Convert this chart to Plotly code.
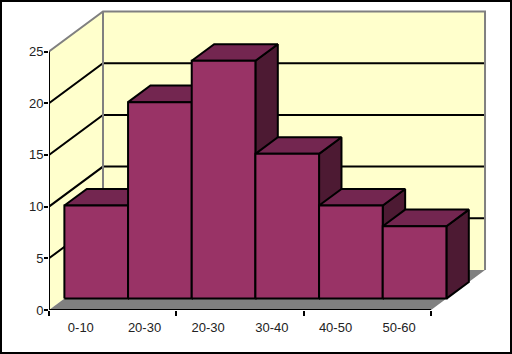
import plotly.graph_objects as go

categories = ["0-10", "20-30", "20-30", "30-40", "40-50", "50-60"]
values = [9, 19, 23, 14, 9, 7]
value_ticks = [0, 5, 10, 15, 20, 25]
category_ticks = [0, 2, 4, 6]

FRONT, BAR_A, BAR_B, BACK = 0.0, 0.285, 0.70, 1.0
DX, DY = 54 / 63.67, 40 / 10.34   # depth shift in axis units
YMAX = value_ticks[-1]
N = len(values)

PLOT_L, PLOT_R, PLOT_T, PLOT_B = 49, 487, 10, 310
W, H = 512, 354


def P(x, y, d):
    return x + d * DX, y + d * DY


fig = go.Figure()


def poly(pts, fill=None, line="#000000", width=2):
    xs = [p[0] for p in pts]
    ys = [p[1] for p in pts]
    fig.add_trace(go.Scatter(
        x=xs, y=ys, mode="lines",
        fill="toself" if fill else "none", fillcolor=fill,
        line=dict(color=line, width=width),
        hoverinfo="skip", showlegend=False, cliponaxis=False,
    ))


WALL, FLOOR, EDGE = "#FFFFCC", "#808080", "#808080"
BAR_FRONT, BAR_TOP, BAR_SIDE = "#993366", "#732650", "#4D1A33"

# walls and floor
poly([P(0, 0, FRONT), P(0, YMAX, FRONT), P(0, YMAX, BACK), P(0, 0, BACK)], fill=WALL, line=WALL, width=0)
poly([P(0, 0, BACK), P(0, YMAX, BACK), P(N, YMAX, BACK), P(N, 0, BACK)], fill=WALL, line=WALL, width=0)
poly([P(0, 0, FRONT), P(N, 0, FRONT), P(N, 0, BACK), P(0, 0, BACK)], fill=FLOOR, line=FLOOR, width=0)

# gridlines
for v in value_ticks[1:-1]:
    poly([P(0, v, FRONT), P(0, v, BACK), P(N, v, BACK)])

# wall edges
poly([P(0, YMAX, FRONT), P(0, YMAX, BACK), P(N, YMAX, BACK), P(N, 0, BACK)], line=EDGE)
poly([P(0, YMAX, BACK), P(0, 0, BACK)], line=EDGE)

# axes
poly([P(0, YMAX, FRONT), P(0, 0, FRONT), P(N, 0, FRONT)])

# bars
for i, v in enumerate(values):
    poly([P(i + 1, 0, BAR_A), P(i + 1, v, BAR_A), P(i + 1, v, BAR_B), P(i + 1, 0, BAR_B), P(i + 1, 0, BAR_A)], fill=BAR_SIDE)
    poly([P(i, v, BAR_A), P(i + 1, v, BAR_A), P(i + 1, v, BAR_B), P(i, v, BAR_B), P(i, v, BAR_A)], fill=BAR_TOP)
    poly([P(i, 0, BAR_A), P(i + 1, 0, BAR_A), P(i + 1, v, BAR_A), P(i, v, BAR_A), P(i, 0, BAR_A)], fill=BAR_FRONT)

font = dict(family="Liberation Sans, Arial, sans-serif", size=13, color="#222222")
fig.update_layout(
    width=W, height=H,
    margin=dict(l=PLOT_L, r=W - PLOT_R, t=PLOT_T, b=H - PLOT_B, autoexpand=False),
    paper_bgcolor="#FFFFFF", plot_bgcolor="#FFFFFF",
    showlegend=False,
    xaxis=dict(
        range=[0, (PLOT_R - PLOT_L) / 63.67],
        tickmode="array",
        tickvals=[i + 0.5 for i in range(N)], ticktext=categories,
        ticks="outside", ticklen=5, tickcolor="rgba(0,0,0,0)",
        minor=dict(tickmode="array", tickvals=category_ticks, ticks="outside",
                   ticklen=5, tickwidth=2, tickcolor="#000000", showgrid=False),
        showgrid=False, zeroline=False, showline=False, tickfont=font,
    ),
    yaxis=dict(
        range=[0, (PLOT_B - PLOT_T) / 10.34],
        tickmode="array", tickvals=value_ticks,
        ticks="outside", ticklen=4, tickwidth=2, tickcolor="#000000",
        showgrid=False, zeroline=False, showline=False, tickfont=font,
        ticklabelstandoff=-2,
    ),
    shapes=[dict(type="rect", xref="paper", yref="paper", layer="above",
                 x0=(1 - PLOT_L) / (PLOT_R - PLOT_L),
                 x1=(W - 1 - PLOT_L) / (PLOT_R - PLOT_L),
                 y0=(PLOT_B - (H - 1)) / (PLOT_B - PLOT_T),
                 y1=(PLOT_B - 1) / (PLOT_B - PLOT_T),
                 line=dict(color="#000000", width=2))],
)

fig.write_html("out.html", config={"displayModeBar": False},
               post_script="document.body.style.margin='0';document.body.style.overflow='hidden';")
